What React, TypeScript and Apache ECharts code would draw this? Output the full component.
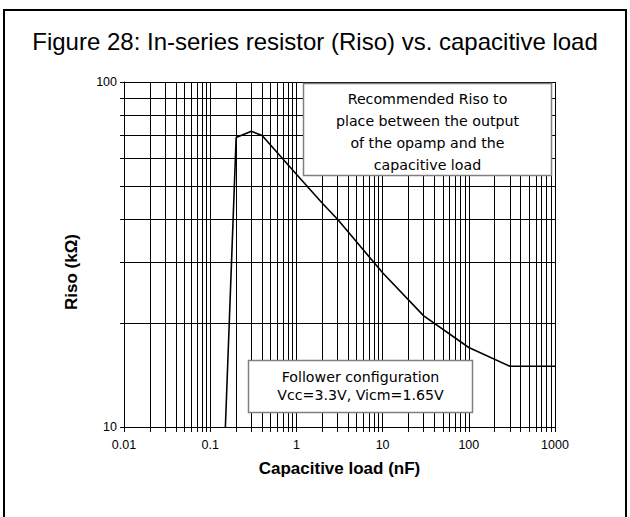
import React, { useEffect, useRef } from "react";
import * as echarts from "echarts";

const TITLE = "Figure 28: In-series resistor (Riso) vs. capacitive load";
const X_NAME = "Capacitive load (nF)";
const Y_NAME = "Riso (kΩ)";
const X_LABELS = [0.01, 0.1, 1, 10, 100, 1000];
const Y_LABELS = [10, 100];
const X_GRID = [
  0.01, 0.02, 0.03, 0.04, 0.05, 0.06, 0.07, 0.08, 0.09,
  0.1, 0.2, 0.3, 0.4, 0.5, 0.6, 0.7, 0.8, 0.9,
  1, 2, 3, 4, 5, 6, 7, 8, 9,
  10, 20, 30, 40, 50, 60, 70, 80, 90,
  100, 200, 300, 400, 500, 600, 700, 800, 900,
  1000,
];
const Y_GRID = [10, 20, 30, 40, 50, 60, 70, 80, 90, 100];
const CAP_LOAD = [0.15, 0.2, 0.3, 0.4, 1, 2, 3, 10, 30, 100, 300, 1000];
const RISO = [10, 69, 72, 70, 54, 44.5, 40, 28, 21, 17, 15, 15];
const NOTE_1 = [
  "Recommended Riso to",
  "place between the output",
  "of the opamp and the",
  "capacitive load",
];
const NOTE_2 = ["Follower configuration", "Vcc=3.3V, Vicm=1.65V"];

const fmt = (v: number) => String(Number(Number(v).toPrecision(6)));

export default function App() {
  const ref = useRef<HTMLDivElement>(null);
  useEffect(() => {
    if (!ref.current) return;
    const chart = echarts.init(ref.current, null, { renderer: "svg" });
    const noteFont = "DejaVu Sans";
    chart.setOption({
      animation: false,
      backgroundColor: "#fff",
      title: {
        text: TITLE,
        left: "center",
        top: 24,
        textStyle: {
          fontFamily: "Liberation Sans",
          fontSize: 24,
          fontWeight: "normal",
          color: "#000",
        },
      },
      grid: { left: 124, right: 75, top: 82, bottom: 90, containLabel: false },
      xAxis: {
        type: "log",
        logBase: 10,
        min: 0.01,
        max: 1000,
        name: X_NAME,
        nameLocation: "middle",
        nameGap: 33,
        nameTextStyle: {
          fontFamily: "Liberation Sans",
          fontSize: 17,
          fontWeight: "bold",
          color: "#000",
        },
        axisLine: { show: true, lineStyle: { color: "#000", width: 1 } },
        axisTick: {
          show: true,
          customValues: X_GRID,
          length: 5,
          lineStyle: { color: "#000", width: 1 },
        },
        axisLabel: {
          customValues: X_LABELS,
          fontFamily: "Liberation Sans",
          fontSize: 12.5,
          color: "#000",
          margin: 11,
          formatter: (v: number) => fmt(v),
        },
        splitLine: { show: true, lineStyle: { color: "#000", width: 1 } },
        minorTick: { show: false },
        minorSplitLine: { show: false },
      },
      yAxis: {
        type: "log",
        logBase: 10,
        min: 10,
        max: 100,
        axisLine: { show: true, lineStyle: { color: "#000", width: 1 } },
        axisTick: {
          show: true,
          customValues: Y_GRID,
          length: 4,
          lineStyle: { color: "#000", width: 1 },
        },
        axisLabel: {
          customValues: Y_LABELS,
          fontFamily: "Liberation Sans",
          fontSize: 12.5,
          color: "#000",
          margin: 7,
          formatter: (v: number) => fmt(v),
        },
        splitLine: { show: true, lineStyle: { color: "#000", width: 1 } },
      },
      series: [
        {
          type: "line",
          data: CAP_LOAD.map((x, i) => [x, RISO[i]]),
          showSymbol: false,
          symbol: "none",
          lineStyle: { color: "#000", width: 1.6 },
          z: 5,
        },
      ],
      graphic: [
        {
          type: "rect",
          z: 200,
          shape: { x: 4, y: 10, width: 622, height: 530 },
          style: { fill: "none", stroke: "#000", lineWidth: 2 },
        },
        {
          type: "text",
          z: 200,
          x: 71,
          y: 272,
          rotation: Math.PI / 2,
          style: {
            text: Y_NAME,
            fontFamily: "Liberation Sans",
            fontSize: 17,
            fontWeight: "bold",
            fill: "#000",
            align: "center",
            verticalAlign: "middle",
          },
        },
        {
          type: "rect",
          z: 100,
          shape: { x: 303.5, y: 83.5, width: 248, height: 92 },
          style: { fill: "#fff", stroke: "#808080", lineWidth: 1.5 },
        },
        {
          type: "text",
          z: 101,
          x: 427.5,
          y: 132,
          style: {
            text: NOTE_1.join("\n"),
            fontFamily: noteFont,
            fontSize: 14.2,
            lineHeight: 22,
            fill: "#000",
            align: "center",
            verticalAlign: "middle",
          },
        },
        {
          type: "rect",
          z: 100,
          shape: { x: 248.5, y: 360.5, width: 224, height: 52 },
          style: { fill: "#fff", stroke: "#808080", lineWidth: 1.5 },
        },
        {
          type: "text",
          z: 101,
          x: 360.5,
          y: 386,
          style: {
            text: NOTE_2.join("\n"),
            fontFamily: noteFont,
            fontSize: 14.2,
            lineHeight: 18.5,
            fill: "#000",
            align: "center",
            verticalAlign: "middle",
          },
        },
      ],
    });
    return () => chart.dispose();
  }, []);
  return (
    <div
      ref={ref}
      style={{ position: "fixed", left: 0, top: 0, width: 630, height: 517 }}
    />
  );
}
